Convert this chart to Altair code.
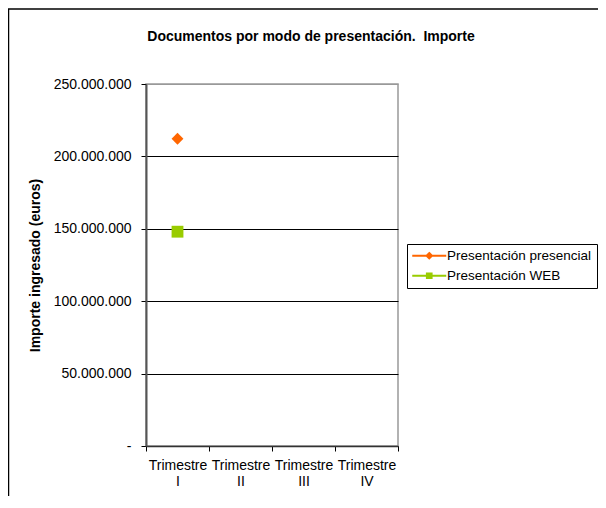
import altair as alt
import pandas as pd

# ---- data ----
trimestres = ["Trimestre I", "Trimestre II", "Trimestre III", "Trimestre IV"]
series = ["Presentación presencial", "Presentación WEB"]
presencial = [212200000, None, None, None]
web = [148000000, None, None, None]
y_ticks = [0, 50000000, 100000000, 150000000, 200000000, 250000000]
colors = ["#FF6600", "#99CC00"]
marker_shapes = ["diamond", "square"]
# legend glyphs: a line with the marker in its middle (unit = 4.5 px)
legend_shapes = [
    "M-3.78,0L3.78,0M0,-0.6L0.6,0L0,0.6L-0.6,0Z",
    "M-3.78,0L3.78,0M-0.52,-0.52L0.52,-0.52L0.52,0.52L-0.52,0.52Z",
]

rows = []
for s, vals in zip(series, [presencial, web]):
    for t, v in zip(trimestres, vals):
        if v is not None:
            rows.append({"trimestre": t, "serie": s, "importe": v})
df = pd.DataFrame(rows)

FONT = "Liberation Sans"

x_enc = alt.X(
    "trimestre:N",
    sort=trimestres,
    scale=alt.Scale(domain=trimestres, paddingInner=0, paddingOuter=0),
    axis=alt.Axis(
        title=None, labelAngle=0, tickBand="extent", labelExpr="split(datum.label, ' ')",
        labelFont=FONT, labelFontSize=14, labelColor="black", labelLineHeight=16,
        labelPadding=7, tickSize=5, tickColor="black", domainColor="#333333",
        domainWidth=1.5, grid=False,
    ),
)
y_enc = alt.Y(
    "importe:Q",
    scale=alt.Scale(domain=[0, 250000000], nice=False, zero=True),
    axis=alt.Axis(
        title="Importe ingresado (euros)", values=y_ticks, format=",d",
        labelExpr="datum.value == 0 ? '-' : datum.label",
        labelFont=FONT, labelFontSize=14, labelColor="black", labelPadding=10,
        tickSize=5, tickColor="black", domainColor="#555555", domainWidth=2,
        grid=True,
        gridColor={"condition": {"test": "datum.value >= 250000000", "value": "#999999"}, "value": "black"},
        gridWidth=1,
        titleFont=FONT, titleFontSize=14, titleFontWeight="bold", titleColor="black",
        titleX=-111, titleY=181, titleAlign="center", titleBaseline="middle", titleAngle=270,
    ),
)

points = alt.Chart(df).mark_point(filled=True, size=140, opacity=1, strokeWidth=0).encode(
    x=x_enc,
    y=y_enc,
    color=alt.Color("serie:N", scale=alt.Scale(domain=series, range=colors), legend=None),
    shape=alt.Shape("serie:N", scale=alt.Scale(domain=series, range=marker_shapes), legend=None),
)

legend_layer = alt.Chart(df).transform_filter("false").mark_point(filled=True).encode(
    x=alt.X("trimestre:N", sort=trimestres),
    y=alt.Y("importe:Q"),
    color=alt.Color("serie:N", scale=alt.Scale(domain=series, range=colors), legend=alt.Legend(title=None)),
    stroke=alt.Stroke("serie:N", scale=alt.Scale(domain=series, range=colors), legend=alt.Legend(title=None)),
    shape=alt.Shape("serie:N", scale=alt.Scale(domain=series, range=legend_shapes), legend=alt.Legend(title=None)),
)

frame_df = pd.DataFrame({"k": [0]})
frame_top = alt.Chart(frame_df).mark_rule(color="black", strokeWidth=1.5).encode(
    x=alt.value(-138), x2=alt.value(452), y=alt.value(-75)
)
frame_left = alt.Chart(frame_df).mark_rule(color="black", strokeWidth=1.5).encode(
    x=alt.value(-137.5), y=alt.value(-75), y2=alt.value(420)
)

chart = (
    alt.layer(frame_top, frame_left, points, legend_layer)
    .resolve_scale(color="independent", shape="independent", stroke="independent")
    .properties(
        width=252,
        height=362,
        autosize=alt.AutoSizeParams(type="none"),
        padding={"left": 138, "top": 76, "right": 200, "bottom": 50},
        title=alt.Title(
            "Documentos por modo de presentación.\u00a0 Importe",
            font=FONT, fontSize=14, fontWeight="bold", color="black",
            anchor="middle", frame="group", dx=39, dy=47, offset=0, baseline="alphabetic",
        ),
    )
    .configure(locale={"number": {"decimal": ",", "thousands": ".", "grouping": [3], "currency": ["", " €"]}})
    .configure_view(stroke="#999999", strokeWidth=1.5)
    .configure_legend(
        orient="none", legendX=261, legendY=160, padding=5, strokeColor="black",
        symbolSize=81, symbolStrokeWidth=2, symbolOpacity=1, symbolOffset=10.5,
        labelFont=FONT, labelFontSize=13.5, labelColor="black", labelOffset=11,
        rowPadding=5, labelLimit=300,
    )
)

chart.save("out.html", embed_options={"renderer": "svg", "actions": False})
